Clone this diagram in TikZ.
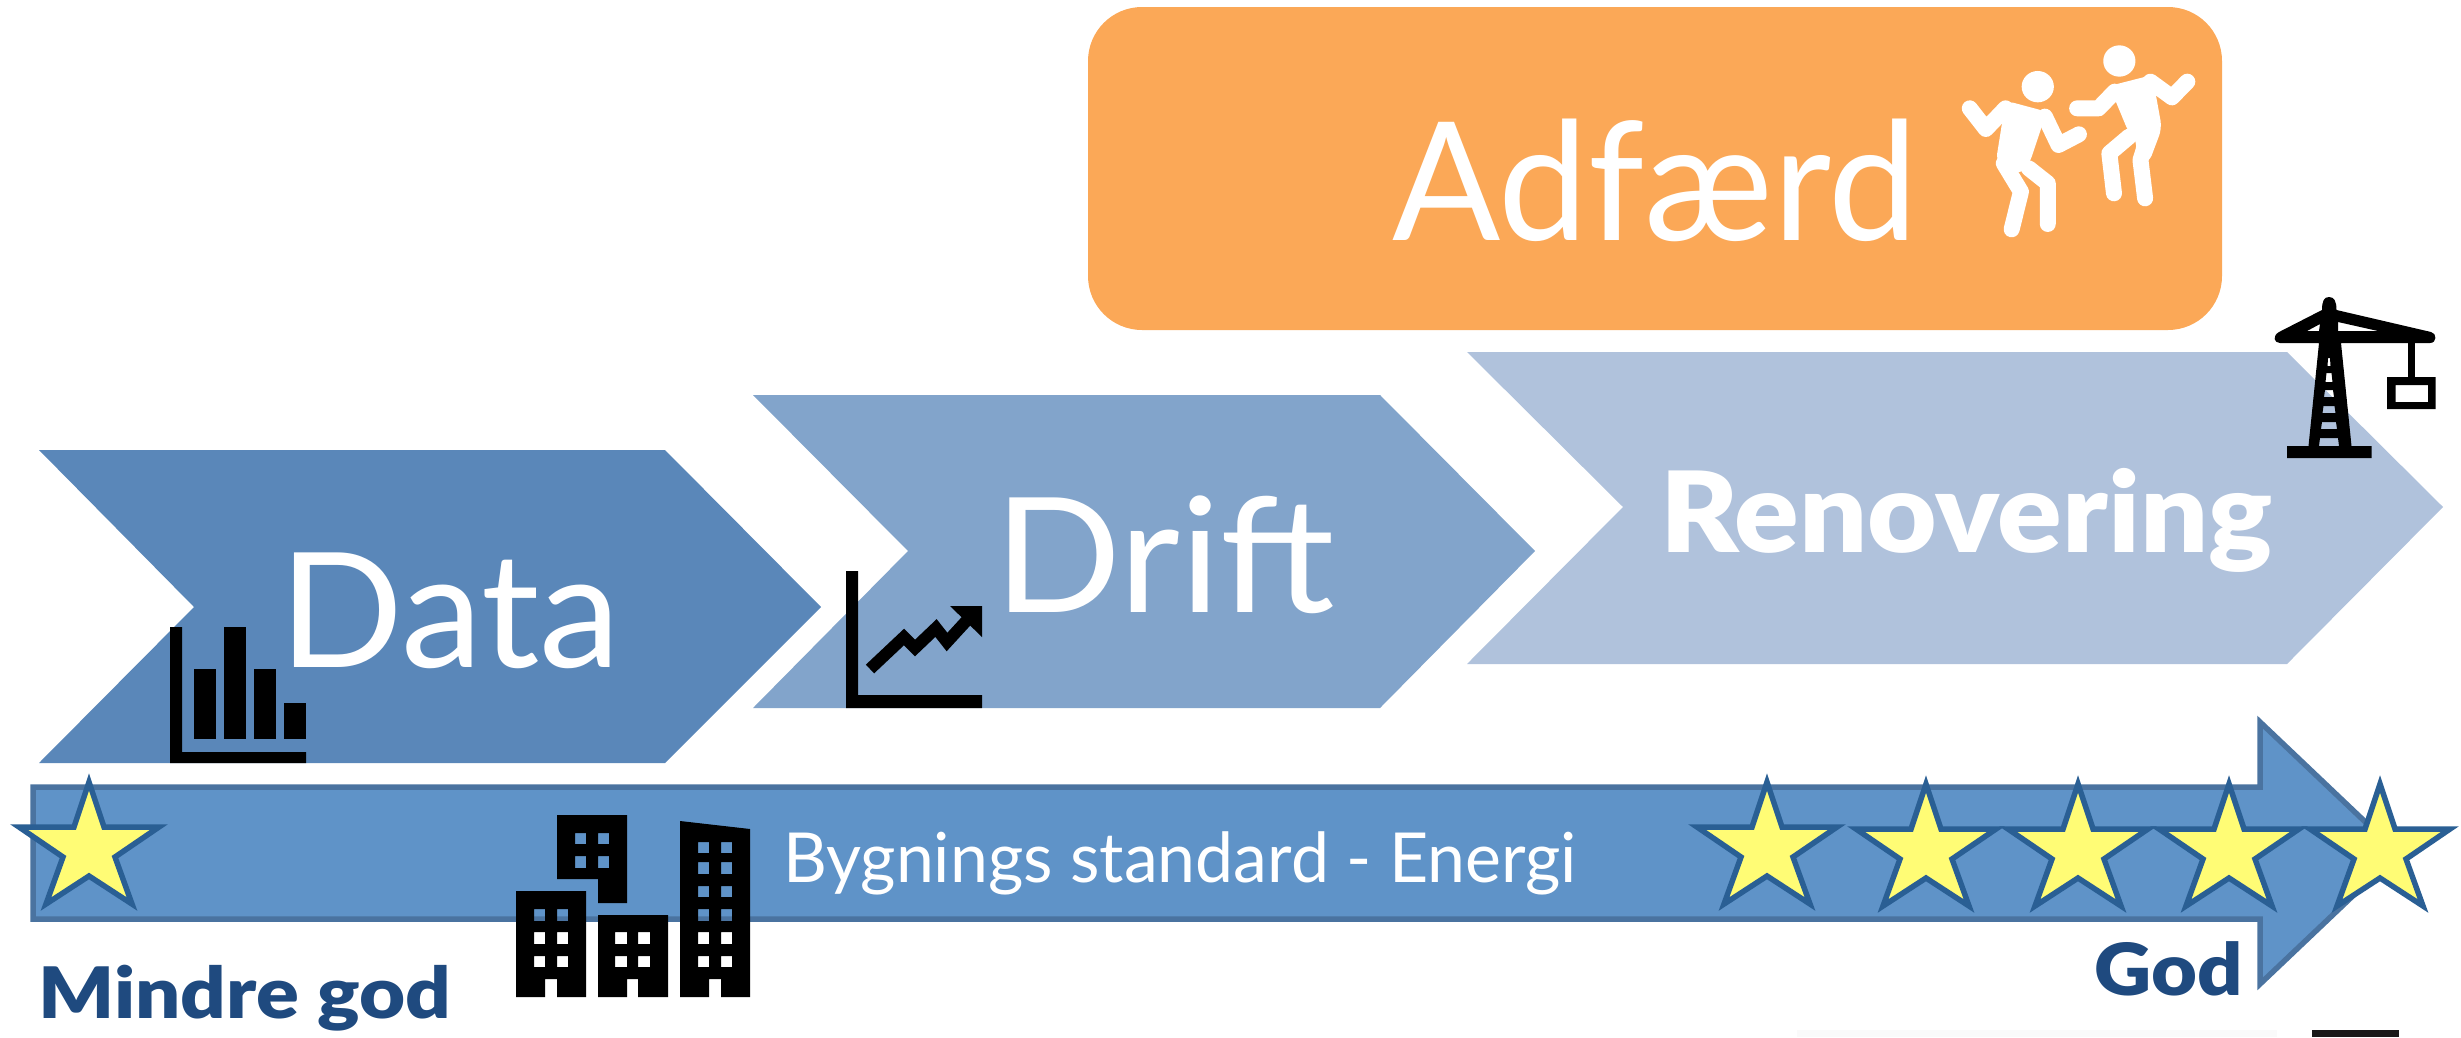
\documentclass[tikz,border=0pt]{standalone}
\usepackage{graphicx}
\usepackage{fontspec}
\setmainfont{Lato}
\newfontfamily\heavyfont{Lato Black}
\definecolor{cData}{HTML}{5A87B9}
\definecolor{cDrift}{HTML}{82A4CB}
\definecolor{cRenov}{HTML}{B0C2DC}
\definecolor{cOrange}{HTML}{FBA857}
\definecolor{cArrow}{HTML}{5F93C8}
\definecolor{cArrowLine}{HTML}{4A73A0}
\definecolor{cStarLine}{HTML}{2A5F94}
\definecolor{cStar}{HTML}{FFFC75}
\definecolor{cDark}{HTML}{1F4A7F}
\tikzset{
  x=1pt,y=-1pt,
  bigtext/.style={inner sep=0pt,text=white,anchor=base west},
  icon/.style={fill=black,even odd rule,draw=none},
  limb/.style={draw=white,line width=16pt,line cap=round,line join=round},
  starshape/.style={fill=cStar,draw=cStarLine,line width=5.5pt,miter limit=10},
  pics/estar/.style={code={
    \draw[starshape] (0,0) -- (15,45) -- (70,45) -- (26,75) -- (43,122) -- (0,94)
      -- (-43,122) -- (-26,75) -- (-70,45) -- (-15,45) -- cycle;
  }}
}
\begin{document}
\begin{tikzpicture}
\useasboundingbox (0,0) rectangle (2461,1037);
% chevrons
\fill[cData] (39,450) -- (665,450) -- (821,607) -- (665,763) -- (39,763) -- (194,607) -- cycle;
\fill[cDrift] (753,395) -- (1380,395) -- (1535,551) -- (1380,708) -- (753,708) -- (908,551) -- cycle;
\fill[cRenov] (1467,352) -- (2287,352) -- (2443,507) -- (2287,664) -- (1467,664) -- (1623,507) -- cycle;
\fill[cOrange,rounded corners=54pt] (1088,7) rectangle (2222,330);
% texts in chevrons
\node[bigtext,font=\fontsize{160}{160}\selectfont] (data) at (279,667) {\scalebox{1.02}[1]{Data}};
\node[bigtext,font=\fontsize{160}{160}\selectfont] (drift) at (994,612) {\scalebox{1.045}[1]{Drift}};
\node[bigtext,font=\fontsize{165}{165}\selectfont] (adfaerd) at (1392,240) {\scalebox{.97}[1]{Adfærd}};
\node[bigtext,font=\heavyfont\fontsize{112}{112}\selectfont] (renovering) at (1660,552) {\scalebox{1.07}[1]{Renovering}};
% big arrow
\draw[fill=cArrow,draw=cArrowLine,line width=5.5pt,miter limit=10] (33,787) -- (2260,787) -- (2260,722) -- (2398,853) -- (2260,984) -- (2260,919) -- (33,919) -- cycle;
\node[bigtext,font=\fontsize{69}{69}\selectfont] (standard) at (783,882) {\scalebox{.985}[1]{Bygnings standard - Energi}};
\node[bigtext,text=cDark,font=\heavyfont\fontsize{71}{71}\selectfont] (mindre) at (38,1018) {\scalebox{1.12}[1]{Mindre god}};
\node[bigtext,text=cDark,font=\heavyfont\fontsize{72}{72}\selectfont] (god) at (2094,995) {\scalebox{1.1}[1]{God}};
% stars
\pic at (89,782) {estar};
\pic at (1767,782) {estar};
\pic at (1926,784) {estar};
\pic at (2078,784) {estar};
\pic at (2229,784) {estar};
\pic at (2380,784) {estar};
% bar chart icon
\fill[black] (170,627) -- (182,627) -- (182,752) -- (306,752) -- (306,763) -- (170,763) -- cycle;
\fill[black] (194,669) rectangle (216,739);
\fill[black] (224,627) rectangle (246,739);
\fill[black] (254,669) rectangle (276,739);
\fill[black] (284,703) rectangle (306,739);
% trend icon
\fill[black] (846,571) -- (858,571) -- (858,695) -- (982,695) -- (982,708) -- (846,708) -- cycle;
\draw[black,line width=12pt,miter limit=3] (870,669) -- (904,637) -- (915,648) -- (936,628) -- (947,642) -- (969,618);
\fill[black] (950,606) -- (982,606) -- (982,637) -- cycle;
% buildings
\path[icon] (557,815) -- (627,815) -- (627,903) -- (598,903) -- (598,879) -- (557,879) -- cycle
  (575,833) rectangle (586,844) (598,833) rectangle (609,844)
  (575,856) rectangle (586,868) (598,856) rectangle (609,868);
\path[icon] (516,891) -- (586,891) -- (586,997) -- (557,997) -- (557,979) -- (545,979) -- (545,997) -- (516,997) -- cycle
  (534,909) rectangle (545,921) (557,909) rectangle (568,921)
  (534,932) rectangle (545,944) (557,932) rectangle (568,944)
  (534,956) rectangle (545,967) (557,956) rectangle (568,967);
\path[icon] (598,915) -- (668,915) -- (668,997) -- (638,997) -- (638,979) -- (627,979) -- (627,997) -- (598,997) -- cycle
  (615,932) rectangle (627,944) (638,932) rectangle (650,944)
  (615,956) rectangle (627,967) (638,956) rectangle (650,967);
\path[icon] (680,821) -- (750,829) -- (750,997) -- (721,997) -- (721,979) -- (709,979) -- (709,997) -- (680,997) -- cycle
  (698,842) rectangle (709,853) (721,842) rectangle (732,853)
  (698,862) rectangle (709,874) (721,862) rectangle (732,874)
  (698,886) rectangle (709,897) (721,886) rectangle (732,897)
  (698,909) rectangle (709,921) (721,909) rectangle (732,921)
  (698,932) rectangle (709,944) (721,932) rectangle (732,944)
  (698,956) rectangle (709,967) (721,956) rectangle (732,967);
% crane
\path[icon] (2329,297) .. controls (2324,297) and (2322,301) .. (2322,310)
  -- (2279,332) .. controls (2272,336) and (2274,343) .. (2280,343)
  -- (2319,343) -- (2308.5,446) -- (2287,446) -- (2287,458) -- (2371.5,458) -- (2371.5,446) -- (2351.5,446) -- (2341,343)
  -- (2430,343) .. controls (2437,343) and (2437,333) .. (2431,332)
  -- (2336.5,310) .. controls (2336.5,301) and (2334,297) .. (2329,297) -- cycle
  (2320,324) -- (2307,331) -- (2319,331) -- cycle
  (2338,322) -- (2378,331) -- (2338,331) -- cycle
  (2328,358) -- (2330,358) -- (2330.5,366) -- (2327.5,366) -- cycle
  (2326.5,373) -- (2331.5,373) -- (2332.5,382) -- (2325.5,382) -- cycle
  (2325,390) -- (2333,390) -- (2334,397) -- (2324,397) -- cycle
  (2323.5,406) -- (2334.5,406) -- (2335.5,413) -- (2322.5,413) -- cycle
  (2322,422) -- (2336,422) -- (2337,429) -- (2321,429) -- cycle
  (2320,438) -- (2338,438) -- (2339,446) -- (2319,446) -- cycle;
\fill[black] (2408,343) rectangle (2415,380);
\path[icon] (2387,377) rectangle (2435.5,409) (2395.5,385) rectangle (2428,402);
% dancers
\begin{scope}[shift={(1900,0)},xscale=0.3578,yscale=0.3333]
  \fill[white] (613,183) ellipse [x radius=45,y radius=47];
  \fill[white] (385,260) ellipse [x radius=45,y radius=47];
  % right person
  \fill[white,rounded corners=8pt] (585,258) -- (705,225) -- (732,385) -- (695,490) -- (650,480) -- (665,425) -- (640,400) -- cycle;
  \draw[limb] (600,275) -- (555,325) -- (495,325);
  \draw[limb] (700,245) -- (760,292) -- (803,245);
  \draw[limb] (640,410) -- (585,460) -- (598,580);
  \draw[limb] (700,390) -- (672,480) -- (685,595);
  % left person
  \fill[white,rounded corners=8pt] (295,302) -- (410,335) -- (362,490) -- (335,525) -- (268,485) -- cycle;
  \draw[limb] (295,325) -- (240,387) -- (195,325);
  \draw[limb] (405,350) -- (443,435) -- (500,403);
  \draw[limb] (290,490) -- (338,575) -- (312,688);
  \draw[limb] (360,505) -- (413,550) -- (413,672);
\end{scope}
% cut-off marks at the lower edge
\fill[black!2] (1797,1030) rectangle (2277,1037);
\fill[black!90] (2312,1030) rectangle (2399,1037);
\end{tikzpicture}
\end{document}
